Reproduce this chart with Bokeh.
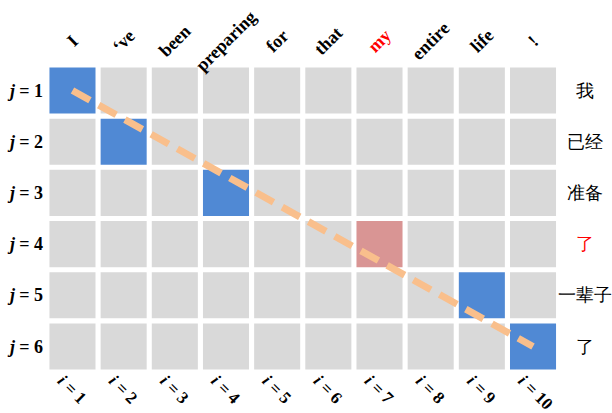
from bokeh.plotting import figure
from bokeh.models import ColumnDataSource, LabelSet, Range1d
from bokeh.embed import file_html
from bokeh.resources import INLINE

# ---- data ----
src_words = ["I", "\u2018ve", "been", "preparing", "for", "that", "my", "entire", "life", "!"]
tgt_words = ["我", "已经", "准备", "了", "一辈子", "了"]
# alignment: target row j -> source column i ; kind: 1 = aligned (blue), 2 = highlighted (red)
align_i = [1, 2, 4, 7, 9, 10]
align_j = [1, 2, 3, 4, 5, 6]
align_kind = [1, 1, 1, 2, 1, 1]
src_color = ["black", "black", "black", "black", "black", "black", "red", "black", "black", "black"]
tgt_color = ["black", "black", "black", "red", "black", "black"]
diag_i = [1, 10]
diag_j = [1, 6]

n_i = len(src_words)
n_j = len(tgt_words)

GRAY = "#D9D9D9"
BLUE = "#5089D4"
PINK = "#D99594"
LINE = "#F9BF8C"

W, H = 612, 413
PX = 51.17   # pixels per cell horizontally
PY = 51.2    # pixels per cell vertically
X0, Y0 = 46.4, 64.4   # pixel position of the grid's top-left corner

p = figure(width=W, height=H, output_backend="svg", toolbar_location=None,
           x_range=Range1d(0.5 - X0 / PX, 0.5 + (W - X0) / PX),
           y_range=Range1d(0.5 + (H - Y0) / PY, 0.5 - Y0 / PY),
           min_border=0)
p.axis.visible = False
p.grid.visible = False
p.outline_line_color = None
p.background_fill_color = "white"

# grid cells
cx, cy, cc = [], [], []
amap = {(i, j): k for i, j, k in zip(align_i, align_j, align_kind)}
for j in range(1, n_j + 1):
    for i in range(1, n_i + 1):
        cx.append(i)
        cy.append(j)
        k = amap.get((i, j), 0)
        cc.append(GRAY if k == 0 else (BLUE if k == 1 else PINK))
p.rect(x=cx, y=cy, width=0.9, height=0.9, fill_color=cc, line_color=None)

# diagonal dashed line
p.line(x=diag_i, y=diag_j, line_color=LINE, line_width=7, line_dash="20 10")

# top labels (source words)
top = ColumnDataSource(dict(x=list(range(1, n_i + 1)), y=[0.5] * n_i, t=src_words, c=src_color))
p.add_layout(LabelSet(x="x", y="y", text="t", source=top, angle=45, angle_units="deg",
                      text_align="center", text_baseline="middle", y_offset=24,
                      text_font="Liberation Serif", text_font_style="bold",
                      text_font_size="18px", text_color="c"))

# right labels (target words)
right = ColumnDataSource(dict(x=[n_i + 0.5] * n_j, y=list(range(1, n_j + 1)), t=tgt_words, c=tgt_color))
p.add_layout(LabelSet(x="x", y="y", text="t", source=right, x_offset=26,
                      text_align="center", text_baseline="middle",
                      text_font="Noto Sans CJK SC", text_font_size="18px", text_color="c"))

# left labels j = N
lj = ColumnDataSource(dict(x=[0.5] * n_j, y=list(range(1, n_j + 1)),
                           j=["j"] * n_j, t=["= %d" % (k + 1) for k in range(n_j)]))
p.add_layout(LabelSet(x="x", y="y", text="t", source=lj, x_offset=-4,
                      text_align="right", text_baseline="middle",
                      text_font="Liberation Serif", text_font_style="bold",
                      text_font_size="18px", text_color="black"))
p.add_layout(LabelSet(x="x", y="y", text="j", source=lj, x_offset=-32,
                      text_align="right", text_baseline="middle",
                      text_font="Liberation Serif", text_font_style="bold italic",
                      text_font_size="18px", text_color="black"))

# bottom labels i = N (rotated -45)
bi = ColumnDataSource(dict(x=list(range(1, n_i + 1)), y=[n_j + 0.5] * n_i,
                           i=["i"] * n_i, t=["= %d" % (k + 1) for k in range(n_i)]))
p.add_layout(LabelSet(x="x", y="y", text="i", source=bi, angle=-45, angle_units="deg",
                      x_offset=-12, y_offset=-6,
                      text_align="left", text_baseline="middle",
                      text_font="Liberation Serif", text_font_style="bold italic",
                      text_font_size="17px", text_color="black"))
p.add_layout(LabelSet(x="x", y="y", text="t", source=bi, angle=-45, angle_units="deg",
                      x_offset=-5, y_offset=-13,
                      text_align="left", text_baseline="middle",
                      text_font="Liberation Serif", text_font_style="bold",
                      text_font_size="17px", text_color="black"))

open("out.html", "w").write(file_html(p, INLINE))
